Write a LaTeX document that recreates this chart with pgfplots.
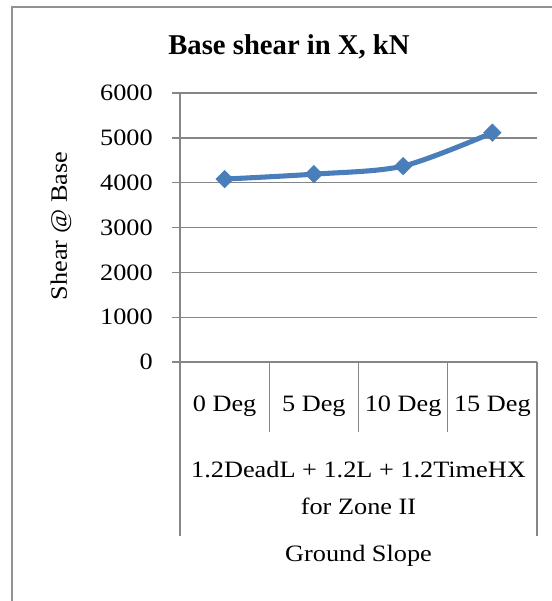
\documentclass[border=0pt]{standalone}
\usepackage{pgfplots}
\pgfplotsset{compat=1.18}
\usepackage{fontspec}
\setmainfont[FakeStretch=1.12]{Liberation Serif}
\newfontfamily\titlefont{Liberation Serif}
\definecolor{gridgray}{RGB}{134,134,134}
\definecolor{lineblue}{RGB}{74,126,187}
\begin{document}
\begin{tikzpicture}[x=0.75pt,y=0.75pt]
\useasboundingbox (0,0) rectangle (552,601);
\draw[gridgray!90, line width=1.3pt] (12,-10) -- (12,594.3) -- (570,594.3);
\begin{axis}[
  at={(135pt,179.25pt)}, anchor=south west,
  width=267.75pt, height=201.75pt, scale only axis,
  xmin=0, xmax=4, ymin=0, ymax=6000,
  clip=false,
  axis lines*=left,
  axis line style={gridgray, line width=1pt, -},
  ymajorgrids,
  grid style={gridgray, line width=1pt},
  ytick={0,1000,2000,3000,4000,5000,6000},
  yticklabels={0,1000,2000,3000,4000,5000,6000},
  scaled y ticks=false,
  tick align=outside,
  major tick length=6pt,
  ytick style={gridgray, line width=1pt},
  xtick={0.5,1.5,2.5,3.5},
  xticklabels={0 Deg,5 Deg,10 Deg,15 Deg},
  xtick style={draw=none},
  tick label style={font=\fontsize{17.6}{20}\selectfont},
  yticklabel style={anchor=east, inner sep=0pt, xshift=-14.25pt},
  xticklabel style={anchor=base, inner sep=0pt, yshift=-30.75pt},
]
\addplot[lineblue, line width=3.8pt, smooth, tension=0.5,
  mark=square*, mark size=4.6pt,
  mark options={rotate=45, fill=lineblue, draw=lineblue, line width=0.5pt}]
  coordinates {(0.5,4080) (1.5,4190) (2.5,4370) (3.5,5115)};
\draw[gridgray, line width=1pt] (axis cs:1,0) -- ++(0pt,-52.5pt);
\draw[gridgray, line width=1pt] (axis cs:2,0) -- ++(0pt,-52.5pt);
\draw[gridgray, line width=1pt] (axis cs:3,0) -- ++(0pt,-52.5pt);
\end{axis}
\draw[gridgray, line width=1pt] (180,239) -- (180,65);
\draw[gridgray, line width=1pt] (537,239) -- (537,65);
\node[anchor=base, inner sep=0pt, font=\fontsize{17.6}{20}\selectfont] at (358.5,123) {1.2DeadL + 1.2L + 1.2TimeHX};
\node[anchor=base, inner sep=0pt, font=\fontsize{17.6}{20}\selectfont] at (358.5,86) {for Zone II};
\node[anchor=base, inner sep=0pt, font=\fontsize{17.6}{20}\selectfont] at (358.5,39) {Ground Slope};
\node[rotate=90, anchor=center, inner sep=0pt, font=\fontsize{17.6}{20}\selectfont] at (61,375) {Shear @ Base};
\node[anchor=base, inner sep=0pt] at (289,546) {\titlefont\bfseries\fontsize{21.5}{24}\selectfont Base shear in X, kN};
\end{tikzpicture}
\end{document}
